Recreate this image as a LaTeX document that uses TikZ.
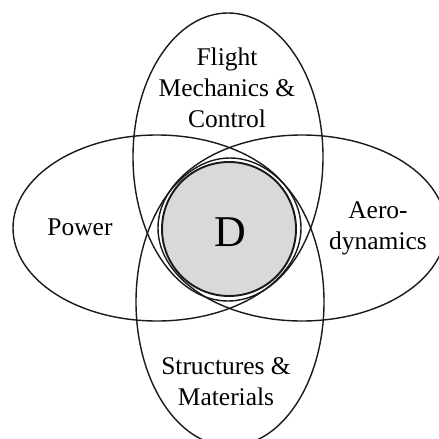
\documentclass[tikz,border=0pt]{standalone}
\usepackage{fontspec}
\setmainfont{Liberation Serif}
\usetikzlibrary{positioning}
\definecolor{vnline}{HTML}{1A1A1A}
\definecolor{vncore}{HTML}{D9D9D9}

\begin{document}
\begin{tikzpicture}[
  x=0.02cm, y=-0.02cm,
  field/.style={draw=vnline, line width=0.8pt},
  core/.style={draw=vnline, fill=vncore, line width=1.1pt},
  label/.style={align=center, inner sep=0pt, font=\fontsize{14.5}{17.5}\selectfont},
]
  \useasboundingbox (0,0) rectangle (439,439);

  % ---- the four disciplines ------------------------------------------------
  \draw[field] (157,228) ellipse [x radius=144, y radius=93];
  \draw[field] (302,228) ellipse [x radius=144, y radius=93];
  \draw[field] (228,157) ellipse [x radius=95, y radius=144];
  \draw[field] (230,302) ellipse [x radius=94, y radius=144];

  % ---- the shared core -----------------------------------------------------
  \draw[core] (229,229) circle [radius=67];

  \node[label] (flight) at (227,88) {Flight\\Mechanics \&\\Control};
  \node[label] (power) at (80,227) {Power};
  \node[label] (aero) at (378,228) {Aero-\\dynamics};
  \node[label] (struct) at (226,382) {Structures \&\\Materials};
  \node[label, font=\fontsize{25}{30}\selectfont] (design) at (230,232) {D};
\end{tikzpicture}
\end{document}
